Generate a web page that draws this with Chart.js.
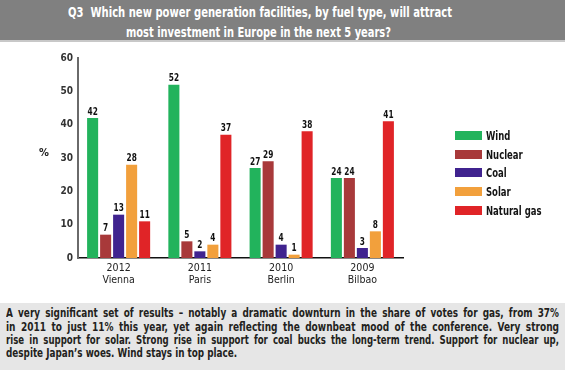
<!DOCTYPE html>
<html>
<head>
<meta charset="utf-8">
<script src="https://cdn.jsdelivr.net/npm/chart.js@4.4.1/dist/chart.umd.min.js"></script>
<style>
  html, body { margin: 0; padding: 0; width: 565px; height: 370px; overflow: hidden; background: #ffffff; }
  body { position: relative; font-family: "DejaVu Sans Condensed", "Liberation Sans", sans-serif; }
  #banner { position: absolute; left: 0; top: 0; width: 565px; height: 40px; background: #808080;
            border-bottom: 2px solid #c8c8c8; box-sizing: content-box; }
  .cond { position: absolute; white-space: nowrap; transform-origin: 0 0; }
  #banner .cond { color: #ffffff; font-weight: bold; font-size: 14px; line-height: 16px; }
  #chartBox { position: absolute; left: 0; top: 42px; width: 565px; height: 261px; }
  #legend { position: absolute; left: 455px; top: 127px; }
  .lg { position: absolute; left: 0; height: 18px; white-space: nowrap; }
  .lg span.sw { position: absolute; left: 0; top: 4px; width: 27px; height: 9px; }
  .lg span.tx { position: absolute; left: 31px; top: 0; font-weight: bold; font-size: 11.5px; line-height: 18px; color: #141414;
                transform: scaleX(0.82); transform-origin: 0 0; }
  #note { position: absolute; left: 0; top: 303px; width: 565px; height: 67px; background: #e6e6e6; }
  #note .cond { left: 6px; font-weight: bold; font-size: 12.5px; line-height: 14px; color: #231f20; }
</style>
</head>
<body>
<div id="banner">
  <span class="cond" data-w="384" data-c="260" style="top:4px">Q3&nbsp; Which new power generation facilities, by fuel type, will attract</span>
  <span class="cond" data-w="265" data-c="258" style="top:24px">most investment in Europe in the next 5 years?</span>
</div>
<div id="chartBox"><canvas id="c"></canvas></div>
<div id="legend"></div>
<div id="note">
  <span class="cond just" style="top:3px">A very significant set of results – notably a dramatic downturn in the share of votes for gas, from 37%</span>
  <span class="cond just" style="top:17px">in 2011 to just 11% this year, yet again reflecting the downbeat mood of the conference. Very strong</span>
  <span class="cond just" style="top:30px">rise in support for solar. Strong rise in support for coal bucks the long-term trend. Support for nuclear up,</span>
  <span class="cond lastline" style="top:43px">despite Japan’s woes. Wind stays in top place.</span>
</div>
<script>
// ---- data ----
const years = ["2012", "2011", "2010", "2009"];
const cities = ["Vienna", "Paris", "Berlin", "Bilbao"];
const seriesNames = ["Wind", "Nuclear", "Coal", "Solar", "Natural gas"];
const wind = [42, 52, 27, 24];
const nuclear = [7, 5, 29, 24];
const coal = [13, 2, 4, 3];
const solar = [28, 4, 1, 8];
const naturalGas = [11, 37, 38, 41];
const yTicks = [0, 10, 20, 30, 40, 50, 60];
const yUnit = "%";

// ---- styles ----
const colors = ["#22b35c", "#a8393a", "#40238f", "#f2a03c", "#e02427"];
const FONT = '"DejaVu Sans Condensed", "Liberation Sans", sans-serif';

// condense HTML text lines to target widths
document.querySelectorAll('#banner .cond').forEach(el => {
  const w = el.getBoundingClientRect().width;
  const tw = +el.dataset.w, c = +el.dataset.c;
  el.style.left = (c - tw / 2) + 'px';
  el.style.transform = 'scaleX(' + (tw / w) + ')';
});
const NOTE_W = 553;
let scales = [];
document.querySelectorAll('#note .just').forEach(el => {
  const w = el.getBoundingClientRect().width;
  const k = Math.min(1, NOTE_W / w) * 0.93;
  // justify: spread words across width NOTE_W / k
  const words = el.textContent.split(' ');
  const natural = w;
  const spaceCount = words.length - 1;
  el.style.transform = 'scaleX(' + k + ')';
  const extra = (NOTE_W / k - natural) / spaceCount;
  el.style.wordSpacing = extra + 'px';
  scales.push(k);
});
const kAvg = scales.reduce((a, b) => a + b, 0) / scales.length;
document.querySelectorAll('#note .lastline').forEach(el => { el.style.transform = 'scaleX(' + kAvg + ')'; });

const seriesValues = [wind, nuclear, coal, solar, naturalGas];
const labels = years.map((y, i) => [y, cities[i]]);

const datasets = seriesNames.map((n, i) => ({
  label: n,
  data: seriesValues[i],
  backgroundColor: colors[i],
  borderWidth: 0,
  categoryPercentage: 0.8,
  barPercentage: 0.85
}));

// legend (HTML, built from series)
const lg = document.getElementById('legend');
seriesNames.forEach((n, i) => {
  const d = document.createElement('div');
  d.className = 'lg';
  d.style.top = (i * 18.7) + 'px';
  d.innerHTML = '<span class="sw" style="background:' + colors[i] + '"></span><span class="tx">' + n + '</span>';
  lg.appendChild(d);
});

const valueLabels = {
  id: 'valueLabels',
  afterDatasetsDraw(chart) {
    const ctx = chart.ctx;
    chart.data.datasets.forEach((ds, di) => {
      chart.getDatasetMeta(di).data.forEach((bar, i) => {
        const t = String(ds.data[i]);
        ctx.save();
        ctx.translate(bar.x, bar.y - 1);
        ctx.scale(0.82, 1);
        ctx.font = 'bold 10px ' + FONT;
        ctx.textAlign = 'center';
        ctx.textBaseline = 'bottom';
        ctx.lineWidth = 2;
        ctx.strokeStyle = 'rgba(255,255,255,0.9)';
        ctx.strokeText(t, 0, 0);
        ctx.fillStyle = '#111111';
        ctx.fillText(t, 0, 0);
        ctx.restore();
      });
    });
  }
};

const unitLabel = {
  id: 'unitLabel',
  afterDraw(chart) {
    const ctx = chart.ctx;
    const y = chart.scales.y;
    ctx.save();
    ctx.font = 'bold 11px ' + FONT;
    ctx.fillStyle = '#222222';
    ctx.textAlign = 'center';
    ctx.textBaseline = 'middle';
    ctx.fillText(yUnit, 44, y.getPixelForValue(31.5));
    ctx.restore();
  }
};

new Chart(document.getElementById('c'), {
  type: 'bar',
  data: { labels: labels, datasets: datasets },
  plugins: [valueLabels, unitLabel],
  options: {
    responsive: true,
    maintainAspectRatio: false,
    animation: false,
    devicePixelRatio: 1,
    layout: { padding: { left: 0, right: 162, top: 16, bottom: 0 } },
    plugins: { legend: { display: false }, tooltip: { enabled: false }, title: { display: false } },
    scales: {
      x: {
        grid: { display: false, drawTicks: false },
        border: { display: true, color: '#111111', width: 1.5 },
        ticks: { color: '#222222', font: { family: FONT, size: 10.5, lineHeight: 1.15 }, padding: 4, maxRotation: 0, autoSkip: false },
        afterFit(s) { s.height = 45; }
      },
      y: {
        min: 0, max: 60,
        afterBuildTicks(s) { s.ticks = yTicks.map(v => ({ value: v })); },
        grid: { display: false, drawTicks: false },
        border: { display: true, color: '#6a6a6a', width: 2 },
        ticks: { color: '#333333', font: { family: FONT, size: 10, weight: 'bold' }, padding: 5 },
        afterFit(s) { s.width = 78; }
      }
    }
  }
});
</script>
</body>
</html>
